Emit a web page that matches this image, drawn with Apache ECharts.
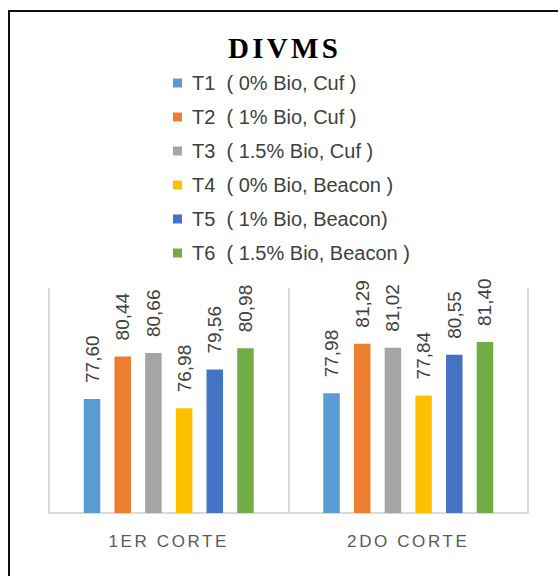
<!DOCTYPE html>
<html>
<head>
<meta charset="utf-8">
<script src="https://cdn.jsdelivr.net/npm/echarts@6/dist/echarts.min.js"></script>
<style>
  html, body { margin: 0; padding: 0; background: #fff; }
  #chart { width: 558px; height: 576px; }
</style>
</head>
<body>
<div id="chart"></div>
<script>
// Harvest categories
const categories = ['1ER CORTE', '2DO CORTE'];

// Treatment names shown in the legend
const treatments = [
  'T1  ( 0% Bio, Cuf )',
  'T2  ( 1% Bio, Cuf )',
  'T3  ( 1.5% Bio, Cuf )',
  'T4  ( 0% Bio, Beacon )',
  'T5  ( 1% Bio, Beacon)',
  'T6  ( 1.5% Bio, Beacon )'
];

// DIVMS values per treatment, one value per harvest
const t1 = [77.60, 77.98];
const t2 = [80.44, 81.29];
const t3 = [80.66, 81.02];
const t4 = [76.98, 77.84];
const t5 = [79.56, 80.55];
const t6 = [80.98, 81.40];

const seriesValues = [t1, t2, t3, t4, t5, t6];
const colors = ['#5B9BD5', '#ED7D31', '#A5A5A5', '#FFC000', '#4472C4', '#70AD47'];

const chart = echarts.init(document.getElementById('chart'), null, { renderer: 'svg' });

const series = seriesValues.map((vals, i) => ({
  name: treatments[i],
  type: 'bar',
  data: vals,
  barWidth: 16.5,
  barGap: '86%',
  itemStyle: { color: colors[i] },
  label: {
    show: true,
    position: 'top',
    distance: 16,
    rotate: 90,
    align: 'left',
    verticalAlign: 'middle',
    fontFamily: 'Liberation Sans',
    fontSize: 19,
    color: '#404040',
    formatter: p => p.value.toFixed(2).replace('.', ',')
  }
}));

chart.setOption({
  animation: false,
  color: colors,
  title: {
    text: 'DIVMS',
    left: 228,
    top: 33,
    padding: 0,
    textStyle: {
      fontFamily: 'Liberation Serif',
      fontWeight: 'bold',
      fontSize: 29,
      color: '#000'
    }
  },
  legend: {
    orient: 'vertical',
    left: 173,
    top: 73,
    padding: 0,
    itemGap: 14,
    itemWidth: 9,
    itemHeight: 9,
    icon: 'rect',
    selectedMode: false,
    textStyle: {
      fontFamily: 'Liberation Sans',
      fontSize: 20,
      lineHeight: 20,
      color: '#404040',
      padding: [0, 0, 0, 5]
    },
    data: treatments
  },
  grid: { left: 49, right: 30, top: 288, bottom: 63, containLabel: false },
  xAxis: {
    type: 'category',
    data: categories,
    axisLine: { show: true, lineStyle: { color: '#d9d9d9', width: 2 } },
    axisTick: { show: false },
    splitLine: { show: true, lineStyle: { color: '#d9d9d9', width: 2 } },
    axisLabel: {
      margin: 20,
      fontFamily: 'Liberation Sans',
      fontSize: 17,
      color: '#595959'
    }
  },
  yAxis: {
    type: 'value',
    min: 70,
    max: 85,
    show: false,
    splitLine: { show: false }
  },
  graphic: [{
    type: 'rect',
    silent: true,
    shape: { x: 9, y: 11, width: 700, height: 700 },
    style: { fill: 'none', stroke: '#111', lineWidth: 2 }
  }],
  series: series
});

// Spaced lettering for the title and the category names
function spaceLetters() {
  document.querySelectorAll('#chart text').forEach(el => {
    const t = (el.textContent || '').trim();
    if (t === 'DIVMS') el.style.letterSpacing = '3.3px';
    else if (categories.indexOf(t) >= 0) el.style.letterSpacing = '2.6px';
  });
}
spaceLetters();
chart.on('finished', spaceLetters);
</script>
</body>
</html>
